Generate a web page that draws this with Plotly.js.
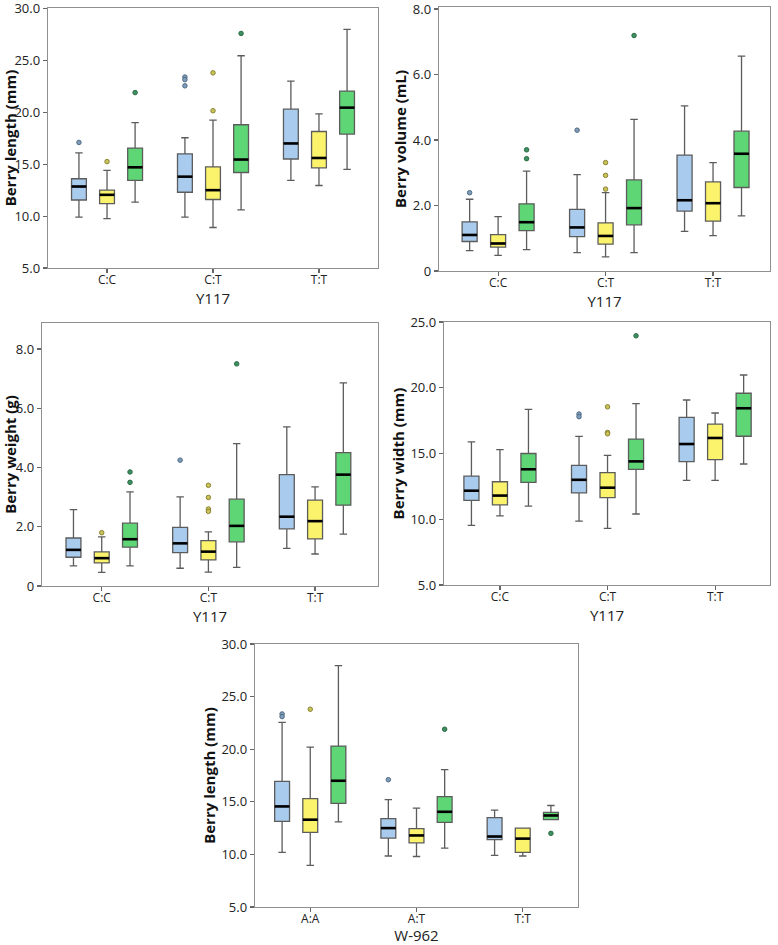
<!DOCTYPE html>
<html><head><meta charset="utf-8">
<script src="https://cdn.plot.ly/plotly-3.0.1.min.js"></script>
<style>html,body{margin:0;padding:0;background:#fff;} #chart{width:778px;height:945px;}</style>
</head><body><div id="chart"></div>
<script>
// ---------------- DATA ----------------
const genotypesY117 = ['C:C', 'C:T', 'T:T'];
const genotypesW962 = ['A:A', 'A:T', 'T:T'];
const groupNames = ['Group 1', 'Group 2', 'Group 3'];

// rows per genotype: [lower whisker, Q1, median, Q3, upper whisker]
// outliers: [genotype index, value]

// Berry length (mm) by Y117
const lengthY117_blue   = [[9.9, 11.55, 12.85, 13.6, 16.1], [9.9, 12.3, 13.8, 16.0, 17.55], [13.45, 15.5, 17.0, 20.3, 23.0]];
const lengthY117_yellow = [[9.75, 11.2, 12.05, 12.5, 14.4], [8.9, 11.6, 12.5, 14.75, 19.25], [12.95, 14.65, 15.6, 18.15, 19.85]];
const lengthY117_green  = [[11.35, 13.45, 14.7, 16.55, 19.0], [10.6, 14.2, 15.45, 18.8, 25.45], [14.5, 17.9, 20.45, 22.05, 28.0]];
const lengthY117_blue_out   = [[0, 17.1], [1, 23.4], [1, 23.15], [1, 22.55]];
const lengthY117_yellow_out = [[0, 15.25], [1, 23.8], [1, 20.15]];
const lengthY117_green_out  = [[0, 21.9], [1, 27.6]];

// Berry volume (mL) by Y117
const volumeY117_blue   = [[0.62, 0.9, 1.1, 1.5, 2.19], [0.56, 1.05, 1.33, 1.88, 2.94], [1.21, 1.83, 2.16, 3.54, 5.04]];
const volumeY117_yellow = [[0.48, 0.73, 0.84, 1.11, 1.66], [0.43, 0.82, 1.07, 1.47, 2.39], [1.08, 1.52, 2.07, 2.72, 3.31]];
const volumeY117_green  = [[0.65, 1.23, 1.49, 2.05, 3.05], [0.56, 1.41, 1.92, 2.78, 4.63], [1.68, 2.55, 3.58, 4.27, 6.56]];
const volumeY117_blue_out   = [[0, 2.39], [1, 4.30]];
const volumeY117_yellow_out = [[1, 3.31], [1, 2.92], [1, 2.50]];
const volumeY117_green_out  = [[0, 3.70], [0, 3.43], [1, 7.19]];

// Berry weight (g) by Y117
const weightY117_blue   = [[0.68, 0.97, 1.22, 1.62, 2.58], [0.60, 1.13, 1.44, 1.98, 3.01], [1.27, 1.93, 2.34, 3.76, 5.37]];
const weightY117_yellow = [[0.46, 0.78, 0.94, 1.15, 1.66], [0.47, 0.88, 1.16, 1.53, 1.83], [1.08, 1.59, 2.19, 2.90, 3.35]];
const weightY117_green  = [[0.68, 1.31, 1.58, 2.12, 3.18], [0.63, 1.49, 2.03, 2.93, 4.81], [1.75, 2.73, 3.76, 4.50, 6.86]];
const weightY117_blue_out   = [[1, 4.25]];
const weightY117_yellow_out = [[0, 1.80], [1, 3.40], [1, 2.99], [1, 2.60], [1, 2.52]];
const weightY117_green_out  = [[0, 3.85], [0, 3.50], [1, 7.50]];

// Berry width (mm) by Y117
const widthY117_blue   = [[9.54, 11.43, 12.17, 13.28, 15.89], [9.85, 12.0, 13.0, 14.1, 16.3], [12.96, 14.38, 15.72, 17.75, 19.07]];
const widthY117_yellow = [[10.25, 11.1, 11.8, 12.85, 15.3], [9.3, 11.65, 12.4, 13.55, 14.85], [12.96, 14.53, 16.18, 17.24, 18.08]];
const widthY117_green  = [[11.0, 12.8, 13.8, 15.0, 18.35], [10.4, 13.8, 14.4, 16.1, 18.8], [14.2, 16.31, 18.44, 19.58, 20.97]];
const widthY117_blue_out   = [[1, 18.0], [1, 17.8]];
const widthY117_yellow_out = [[1, 18.55], [1, 16.6], [1, 16.5]];
const widthY117_green_out  = [[1, 23.95]];

// Berry length (mm) by W-962
const lengthW962_blue   = [[10.2, 13.13, 14.56, 16.95, 22.55], [9.85, 11.55, 12.5, 13.4, 15.2], [9.9, 11.4, 11.7, 13.5, 14.2]];
const lengthW962_yellow = [[8.95, 12.1, 13.3, 15.3, 20.2], [9.8, 11.1, 11.8, 12.45, 14.4], [9.85, 10.2, 11.5, 12.5, 12.5]];
const lengthW962_green  = [[13.1, 14.85, 17.0, 20.3, 27.95], [10.6, 13.05, 14.05, 15.5, 18.05], [13.3, 13.3, 13.7, 14.0, 14.65]];
const lengthW962_blue_out   = [[0, 23.35], [0, 23.1], [1, 17.1]];
const lengthW962_yellow_out = [[0, 23.8]];
const lengthW962_green_out  = [[1, 21.9], [2, 12.0]];

// tick labels
const ticksLength = [5, 10, 15, 20, 25, 30];
const ticksLengthText = ['5.0', '10.0', '15.0', '20.0', '25.0', '30.0'];
const ticksVolume = [0, 2, 4, 6, 8];
const ticksVolumeText = ['0', '2.0', '4.0', '6.0', '8.0'];
const ticksWidth = [5, 10, 15, 20, 25];
const ticksWidthText = ['5.0', '10.0', '15.0', '20.0', '25.0'];

// ---------------- STYLE / LAYOUT ----------------
const W = 778, H = 945;
const FONT = '"Open Sans", "Noto Sans", sans-serif';
const fills = ['#a9cbee', '#fbf36c', '#5fd675'];
const outFill = ['#7f9cb8', '#c9c25a', '#3f9060'];
const outLine = ['#4f6a86', '#8a8430', '#2b6a45'];
const groupOffset = [-0.265, 0, 0.265];
const boxW = 0.14;

function dom(px0, px1) { return [px0 / W, px1 / W]; }
function domY(top, bottom) { return [1 - bottom / H, 1 - top / H]; }

const panels = [
  { stats: [lengthY117_blue, lengthY117_yellow, lengthY117_green],
    outs: [lengthY117_blue_out, lengthY117_yellow_out, lengthY117_green_out],
    cats: genotypesY117, xtitle: 'Y117', ytitle: 'Berry length (mm)',
    tv: ticksLength, tt: ticksLengthText, yr: [5, 30.05], xr: [-0.557, 2.557],
    xd: dom(48, 378), yd: domY(8, 268) },
  { stats: [volumeY117_blue, volumeY117_yellow, volumeY117_green],
    outs: [volumeY117_blue_out, volumeY117_yellow_out, volumeY117_green_out],
    cats: genotypesY117, xtitle: 'Y117', ytitle: 'Berry volume (mL)',
    tv: ticksVolume, tt: ticksVolumeText, yr: [0, 8.06], xr: [-0.55, 2.53],
    xd: dom(439, 770), yd: domY(7, 271) },
  { stats: [weightY117_blue, weightY117_yellow, weightY117_green],
    outs: [weightY117_blue_out, weightY117_yellow_out, weightY117_green_out],
    cats: genotypesY117, xtitle: 'Y117', ytitle: 'Berry weight (g)',
    tv: ticksVolume, tt: ticksVolumeText, yr: [0, 8.88], xr: [-0.56, 2.59],
    xd: dom(42, 378), yd: domY(323, 586) },
  { stats: [widthY117_blue, widthY117_yellow, widthY117_green],
    outs: [widthY117_blue_out, widthY117_yellow_out, widthY117_green_out],
    cats: genotypesY117, xtitle: 'Y117', ytitle: 'Berry width (mm)',
    tv: ticksWidth, tt: ticksWidthText, yr: [5, 25], xr: [-0.52, 2.51],
    xd: dom(444, 770), yd: domY(322, 585) },
  { stats: [lengthW962_blue, lengthW962_yellow, lengthW962_green],
    outs: [lengthW962_blue_out, lengthW962_yellow_out, lengthW962_green_out],
    cats: genotypesW962, xtitle: 'W-962', ytitle: 'Berry length (mm)',
    tv: ticksLength, tt: ticksLengthText, yr: [5, 30], xr: [-0.52, 2.52],
    xd: dom(255, 578), yd: domY(644, 907) }
];

const traces = [];
const layout = {
  width: W, height: H,
  margin: { l: 0, r: 0, t: 0, b: 0 },
  paper_bgcolor: '#ffffff', plot_bgcolor: '#ffffff',
  showlegend: false,
  font: { family: FONT, color: '#222' }
};

panels.forEach((p, pi) => {
  const n = pi === 0 ? '' : String(pi + 1);
  const xa = 'x' + n, ya = 'y' + n;
  p.stats.forEach((rows, s) => {
    const xs = rows.map((r, ci) => ci + groupOffset[s]);
    traces.push({
      type: 'box', name: groupNames[s], xaxis: xa, yaxis: ya,
      x: xs,
      lowerfence: rows.map(r => r[0]),
      q1: rows.map(r => r[1]),
      median: rows.map(r => r[2]),
      q3: rows.map(r => r[3]),
      upperfence: rows.map(r => r[4]),
      width: boxW, whiskerwidth: 0.5,
      fillcolor: fills[s],
      line: { color: '#5c5c5c', width: 1.3 },
      boxpoints: false, hoverinfo: 'skip'
    });
    // black median bars
    const mx = [], my = [];
    rows.forEach((r, ci) => {
      const c = ci + groupOffset[s];
      mx.push(c - boxW / 2, c + boxW / 2, null);
      my.push(r[2], r[2], null);
    });
    traces.push({
      type: 'scatter', mode: 'lines', xaxis: xa, yaxis: ya,
      x: mx, y: my, line: { color: '#000', width: 2.6 }, hoverinfo: 'skip'
    });
    // outliers
    const o = p.outs[s];
    traces.push({
      type: 'scatter', mode: 'markers', xaxis: xa, yaxis: ya,
      x: o.map(d => d[0] + groupOffset[s]), y: o.map(d => d[1]),
      marker: { symbol: 'circle', size: 4.5, color: outFill[s], line: { color: outLine[s], width: 1 } },
      hoverinfo: 'skip'
    });
  });

  layout['xaxis' + n] = {
    domain: p.xd, anchor: ya, range: p.xr,
    tickvals: [0, 1, 2], ticktext: p.cats,
    ticks: 'outside', ticklen: 4, tickwidth: 1.2, tickcolor: '#666',
    ticklabelstandoff: -4, ticklabeloverflow: 'allow',
    tickfont: { size: 12, family: FONT, color: '#222' },
    showline: true, mirror: true, linecolor: '#8f8f8f', linewidth: 1.3,
    showgrid: false, zeroline: false, fixedrange: true,
    title: { text: p.xtitle, font: { size: 15, family: FONT, color: '#222' }, standoff: 5 }
  };
  layout['yaxis' + n] = {
    domain: p.yd, anchor: xa, range: p.yr,
    tickvals: p.tv, ticktext: p.tt,
    ticks: 'outside', ticklen: 4, tickwidth: 1.2, tickcolor: '#666',
    ticklabeloverflow: 'allow',
    tickfont: { size: 13, family: FONT, color: '#222' },
    showline: true, mirror: true, linecolor: '#8f8f8f', linewidth: 1.3,
    showgrid: false, zeroline: false, fixedrange: true,
    title: { text: p.ytitle, font: { size: 15, family: FONT, color: '#111', weight: 'bold' }, standoff: 2 }
  };
});

Plotly.newPlot('chart', traces, layout, { displayModeBar: false, staticPlot: true });
</script>
</body></html>
